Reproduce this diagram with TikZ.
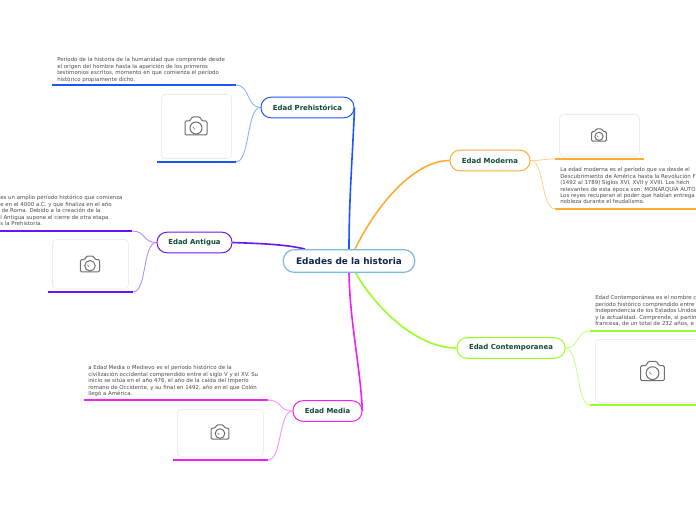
\documentclass[tikz,border=0pt]{standalone}
\usepackage{fontspec}
\setmainfont{DejaVu Sans}
\usetikzlibrary{calc}
\pgfdeclarelayer{bg}
\pgfsetlayers{bg,main}
\definecolor{cblue}{HTML}{1A56FF}\definecolor{lblue}{HTML}{8DA9FF}
\definecolor{cpurple}{HTML}{6A14F0}\definecolor{lpurple}{HTML}{B08CF8}
\definecolor{cmag}{HTML}{F020F0}\definecolor{lmag}{HTML}{F890F8}
\definecolor{corange}{HTML}{FFAA33}\definecolor{lorange}{HTML}{FFD394}
\definecolor{cgreen}{HTML}{99FF22}\definecolor{lgreen}{HTML}{C6FF84}
\definecolor{ttl}{HTML}{0F4A3A}\definecolor{ctl}{HTML}{12264F}
\definecolor{dsc}{HTML}{4A4A4A}\definecolor{cam}{HTML}{6E6E6E}
\definecolor{cborder}{HTML}{7DB8E0}
\tikzset{
 x=0.75pt,y=-0.75pt,
 central/.style={draw=cborder,fill=white,line width=0.9pt,rounded corners=8pt,inner sep=0pt,
   font=\fontsize{6.7pt}{8pt}\selectfont\bfseries,text=ctl,minimum width=98.5pt,minimum height=17pt},
 branch/.style={draw=#1,fill=white,line width=0.75pt,rounded corners=7.5pt,inner sep=0pt,
   font=\fontsize{5.2pt}{6pt}\selectfont\bfseries,text=ttl,minimum height=15.5pt},
 desc/.style={anchor=north west,align=left,inner sep=0pt,text=dsc,
   font=\fontsize{4.08pt}{4.85pt}\selectfont},
 imgbox/.style={draw=black!7,fill=white,line width=0.6pt,rounded corners=3pt,inner sep=0pt,anchor=north west},
 trunk/.style={draw=#1,line width=1.2pt},
 leafline/.style={draw=#1,line width=1.2pt},
 leafcurve/.style={draw=#1,line width=0.65pt},
 pics/camera/.style={code={
   \draw[cam,line width=0.75pt,line join=round,rounded corners=0.9pt]
     (-11,9) -- (-11,-5) -- (-6,-5) -- (-4,-9) -- (4,-9) -- (6,-5) -- (11,-5) -- (11,9) -- cycle;
   \draw[cam,line width=0.75pt] (0,2) circle[radius=6];
   \draw[cam,line width=0.45pt] (-3,1) arc[start angle=170,end angle=110,radius=3];
 }},
}
\begin{document}
\begin{tikzpicture}
\useasboundingbox (0,0) rectangle (696,520);
\clip (0,0) rectangle (696,520);
% main nodes
\node[central] (c) at (349,261) {Edades de la historia};
\node[branch=cblue,minimum width=69.75pt] (pre) at (307.5,107.5) {Edad Prehistórica};
\node[branch=cpurple,minimum width=56.25pt] (ant) at (194.5,242.5) {Edad Antigua};
\node[branch=cmag,minimum width=51.75pt] (med) at (327.5,411) {Edad Media};
\node[branch=corange,minimum width=60pt] (mod) at (490,160.5) {Edad Moderna};
\node[branch=cgreen,minimum width=81pt] (con) at (511,348) {Edad Contemporanea};
% descriptions
\node[desc] (tpre) at (57,57) {Período de la historia de la humanidad que comprende desde\\el origen del hombre hasta la aparición de los primeros\\testimonios escritos, momento en que comienza el período\\histórico propiamente dicho.};
\node[desc] (tant) at (0,195) {es un amplio período histórico que comienza\\e en el 4000 a.C. y que finaliza en el año\\\hspace{1pt}de Roma. Debido a la creación de la\\l Antigua supone el cierre de otra etapa\\s la Prehistoria.};
\node[desc] (tmed) at (88,365) {a Edad Media o Medievo es el período histórico de la\\civilización occidental comprendido entre el siglo V y el XV. Su\\inicio se sitúa en el año 476, el año de la caída del Imperio\\romano de Occidente, y su final en 1492, año en el que Colón\\llegó a América.};
\node[desc] (tmod) at (560,167) {La edad moderna es el período que va desde el\\Descubrimiento de América hasta la Revolución F\\(1492 al 1789) Siglos XVI, XVII y XVIII. Los hech\\relevantes de esta época son: MONARQUÍA AUTO\\Los reyes recuperan el poder que habían entrega\\nobleza durante el feudalismo.};
\node[desc] (tcon) at (595,295) {Edad Contemporánea es el nombre c\\período histórico comprendido entre\\Independencia de los Estados Unidos\\y la actualidad. Comprende, si partin\\francesa, de un total de 232 años, e};
% image boxes
\node[imgbox,minimum width=52.5pt,minimum height=48pt] (ipre) at (161,94) {};
\node[imgbox,minimum width=57pt,minimum height=37pt] (iant) at (52,239) {};
\node[imgbox,minimum width=64.5pt,minimum height=35.5pt] (imed) at (177,409) {};
\node[imgbox,minimum width=60pt,minimum height=31.5pt] (imod) at (559,114) {};
\node[imgbox,minimum width=90pt,minimum height=47.25pt] (icon) at (595,339) {};
\pic[scale=1] at (196,126) {camera};
\pic[scale=0.87] at (90,264) {camera};
\pic[scale=0.8] at (220,432) {camera};
\pic[scale=0.68] at (599,135) {camera};
\pic[scale=1.07] at (652.5,371) {camera};
% underline end points
\coordinate (apre1) at (52,85);\coordinate (bpre1) at (236,85);
\coordinate (apre2) at (157,162);\coordinate (bpre2) at (236,162);
\coordinate (aant1) at (0,231);\coordinate (bant1) at (132,231);
\coordinate (aant2) at (48,292);\coordinate (bant2) at (133,292);
\coordinate (amed1) at (84,400);\coordinate (bmed1) at (268,400);
\coordinate (amed2) at (173,460);\coordinate (bmed2) at (268,460);
\coordinate (amod1) at (644,159);\coordinate (bmod1) at (555,159);
\coordinate (amod2) at (696,209);\coordinate (bmod2) at (555,209);
\coordinate (acon1) at (696,331);\coordinate (bcon1) at (590,331);
\coordinate (acon2) at (696,405);\coordinate (bcon2) at (590,405);
\begin{pgfonlayer}{bg}
% trunks
\draw[trunk=cblue] (c.north) .. controls +(0,-50) and +(-2,50) .. (pre.east);
\draw[trunk=cpurple] ([xshift=-33pt]c.north) .. controls +(-20,-5) and +(25,1) .. (ant.east);
\draw[trunk=cmag] (c.south) .. controls +(1,50) and +(-3,-50) .. (med.east);
\draw[trunk=corange] ([xshift=4.5pt]c.north) .. controls +(22,-45) and +(-35,0) .. (mod.west);
\draw[trunk=cgreen] ([xshift=5pt]c.south) .. controls +(20,35) and +(-40,0) .. (con.west);
% leaf curves
\foreach \br/\col/\a in {pre/lblue/1,pre/lblue/2,ant/lpurple/1,ant/lpurple/2,med/lmag/1,med/lmag/2}
  \draw[leafcurve=\col] (\br.west) .. controls +(-14,0) and +(14,0) .. (b\br\a);
\foreach \br/\col/\a in {mod/lorange/1,mod/lorange/2,con/lgreen/1,con/lgreen/2}
  \draw[leafcurve=\col] (\br.east) .. controls +(14,0) and +(-14,0) .. (b\br\a);
% underlines
\draw[leafline=cblue] (apre1) -- (bpre1);
\draw[leafline=cblue] (apre2) -- (bpre2);
\draw[leafline=cpurple] (aant1) -- (bant1);
\draw[leafline=cpurple] (aant2) -- (bant2);
\draw[leafline=cmag] (amed1) -- (bmed1);
\draw[leafline=cmag] (amed2) -- (bmed2);
\draw[leafline=corange] (amod1) -- (bmod1);
\draw[leafline=corange] (amod2) -- (bmod2);
\draw[leafline=cgreen] (acon1) -- (bcon1);
\draw[leafline=cgreen] (acon2) -- (bcon2);
\end{pgfonlayer}
\end{tikzpicture}
\end{document}
